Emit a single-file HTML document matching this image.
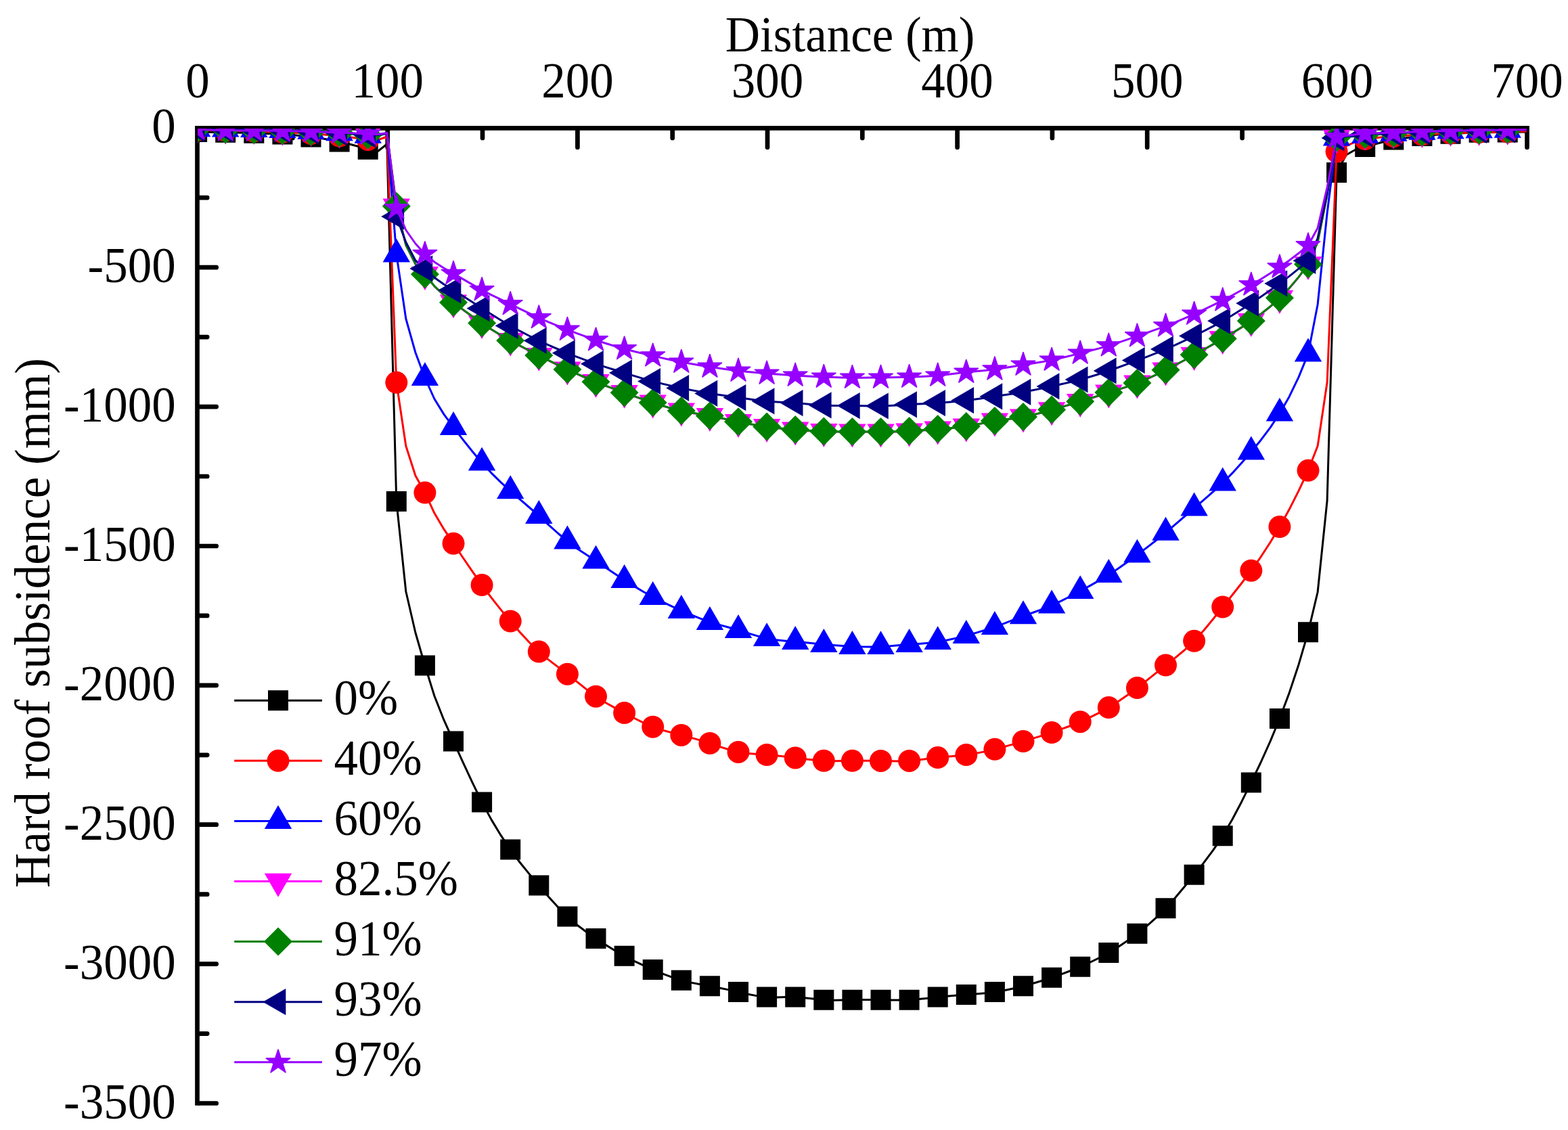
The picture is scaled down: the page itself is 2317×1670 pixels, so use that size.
<!DOCTYPE html>
<html><head><meta charset="utf-8"><title>Hard roof subsidence</title>
<style>html,body{margin:0;padding:0;background:#fff;}svg{display:block;}text{font-family:'Liberation Serif','Times New Roman',serif;font-size:71px;fill:#000;}</style></head><body>
<svg width="2317" height="1670" viewBox="0 0 2317 1670">
<rect width="2317" height="1670" fill="#fff"/>
<path d="M288.1 189.3H2259.9M291.5 186V1633.8" stroke="#000" stroke-width="6.7" fill="none"/>
<path d="M432.4 192.7v11.2M572.7 192.7v25M713 192.7v11.2M853.4 192.7v25M993.7 192.7v11.2M1134 192.7v25M1274.3 192.7v11.2M1414.6 192.7v25M1554.9 192.7v11.2M1695.2 192.7v25M1835.6 192.7v11.2M1975.9 192.7v25M2116.2 192.7v11.2M2256.5 192.7v25M294.9 292.2h11.3M294.9 395.2h24.8M294.9 498.1h11.3M294.9 601.1h24.8M294.9 704h11.3M294.9 807h24.8M294.9 909.9h11.3M294.9 1012.8h24.8M294.9 1115.8h11.3M294.9 1218.7h24.8M294.9 1321.7h11.3M294.9 1424.6h24.8M294.9 1527.6h11.3M294.9 1630.5h24.8" stroke="#000" stroke-width="6.7" stroke-linecap="round" fill="none"/>
<text transform="translate(291.9 144) scale(1 1.055)" text-anchor="middle">0</text>
<text transform="translate(572.7 144) scale(1 1.055)" text-anchor="middle">100</text>
<text transform="translate(853.4 144) scale(1 1.055)" text-anchor="middle">200</text>
<text transform="translate(1134 144) scale(1 1.055)" text-anchor="middle">300</text>
<text transform="translate(1414.6 144) scale(1 1.055)" text-anchor="middle">400</text>
<text transform="translate(1695.2 144) scale(1 1.055)" text-anchor="middle">500</text>
<text transform="translate(1975.9 144) scale(1 1.055)" text-anchor="middle">600</text>
<text transform="translate(2256.5 144) scale(1 1.055)" text-anchor="middle">700</text>
<text transform="translate(259.7 211.3) scale(1 1.055)" text-anchor="end">0</text>
<text transform="translate(259.7 417.2) scale(1 1.055)" text-anchor="end">-500</text>
<text transform="translate(259.7 623.1) scale(1 1.055)" text-anchor="end">-1000</text>
<text transform="translate(259.7 829) scale(1 1.055)" text-anchor="end">-1500</text>
<text transform="translate(259.7 1034.8) scale(1 1.055)" text-anchor="end">-2000</text>
<text transform="translate(259.7 1240.7) scale(1 1.055)" text-anchor="end">-2500</text>
<text transform="translate(259.7 1446.6) scale(1 1.055)" text-anchor="end">-3000</text>
<text transform="translate(259.7 1652.5) scale(1 1.055)" text-anchor="end">-3500</text>
<text transform="translate(1071.8 76) scale(1 1.028)">Distance (m)</text>
<text transform="translate(73.3 1311.9) rotate(-90) scale(1 1.028)">Hard roof subsidence (mm)</text>
<defs><clipPath id="c"><rect x="292" y="190" width="1967" height="1441.2"/></clipPath></defs>
<g clip-path="url(#c)">
<path d="M291.1 195L305.1 195.2L319.2 195.4L333.2 195.7L347.2 196L361.3 196.3L375.3 196.7L389.3 197.2L403.4 197.8L417.4 198.5L431.4 199.5L445.5 200.8L459.5 202.4L473.5 204.3L487.6 206.7L501.6 209.5L515.6 212.7L529.7 216.5L543.7 220.8L557.7 224L571.8 213L585.8 740.9L599.8 874L613.9 935L627.9 983.5L641.9 1028.5L656 1064.2L670 1095.4L684 1126.3L698.1 1156.7L712.1 1185.4L726.1 1211.4L740.2 1234.7L754.2 1255.6L768.2 1274.5L782.3 1291.9L796.3 1308.6L810.3 1325L824.4 1340.5L838.4 1354.6L852.4 1366.7L866.5 1377.3L880.5 1386.9L894.5 1396.1L908.6 1404.8L922.6 1412.8L936.6 1420.1L950.7 1426.7L964.7 1432.9L978.7 1438.8L992.8 1444.2L1006.8 1448.7L1020.8 1452.1L1034.9 1454.8L1048.9 1457.3L1062.9 1460L1077 1462.9L1091 1466L1105 1469.2L1119.1 1471.9L1133.1 1473.6L1147.1 1473.9L1161.2 1473.6L1175.2 1473.6L1189.2 1474.7L1203.3 1476.3L1217.3 1477.7L1231.3 1478.2L1245.4 1478.1L1259.4 1477.7L1273.4 1477.5L1287.5 1477.5L1301.5 1477.7L1315.5 1478L1329.6 1478.1L1343.6 1477.7L1357.6 1476.6L1371.7 1475.2L1385.7 1473.6L1399.7 1472.2L1413.8 1471.1L1427.8 1470L1441.8 1469L1455.9 1467.7L1469.9 1466L1483.9 1463.7L1498 1460.7L1512 1457.3L1526 1453.5L1540.1 1449.3L1554.1 1444.7L1568.1 1439.8L1582.2 1434.5L1596.2 1428.8L1610.2 1422.5L1624.3 1415.7L1638.3 1408L1652.3 1399.5L1666.4 1390.1L1680.4 1379.8L1694.5 1368.6L1708.5 1356.2L1722.5 1342.3L1736.6 1326.8L1750.6 1310L1764.6 1292.7L1778.7 1275.1L1792.7 1256.3L1806.7 1235.3L1820.8 1211.2L1834.8 1184.7L1848.8 1156.4L1862.9 1127L1876.9 1095.9L1890.9 1062L1905 1024.4L1919 982.2L1933 934.3L1947.1 875L1961.1 740L1975.1 255L1989.2 229L2003.2 221L2017.2 216.9L2031.3 213.1L2045.3 209.5L2059.3 206.6L2073.4 204.4L2087.4 202.5L2101.4 201L2115.5 199.7L2129.5 198.7L2143.5 197.8L2157.6 197L2171.6 196.2L2185.6 195.8L2199.7 195.7L2213.7 195.6L2227.7 195.5L2241.8 195.3L2255.8 195" fill="none" stroke="#000000" stroke-width="3" stroke-linejoin="round"/>
<g fill="#000000"><path d="M276.1 180h30v30h-30zM318.2 180.7h30v30h-30zM360.3 181.7h30v30h-30zM402.4 183.5h30v30h-30zM444.5 187.4h30v30h-30zM486.6 194.5h30v30h-30zM528.7 205.8h30v30h-30zM570.8 725.9h30v30h-30zM612.9 968.5h30v30h-30zM655 1080.4h30v30h-30zM697.1 1170.4h30v30h-30zM739.2 1240.6h30v30h-30zM781.3 1293.6h30v30h-30zM823.4 1339.6h30v30h-30zM865.5 1371.9h30v30h-30zM907.6 1397.8h30v30h-30zM949.7 1417.9h30v30h-30zM991.8 1433.7h30v30h-30zM1033.9 1442.3h30v30h-30zM1076 1451h30v30h-30zM1118.1 1458.6h30v30h-30zM1160.2 1458.6h30v30h-30zM1202.3 1462.7h30v30h-30zM1244.4 1462.7h30v30h-30zM1286.5 1462.7h30v30h-30zM1328.6 1462.7h30v30h-30zM1370.7 1458.6h30v30h-30zM1412.8 1455h30v30h-30zM1454.9 1451h30v30h-30zM1497 1442.3h30v30h-30zM1539.1 1429.7h30v30h-30zM1581.2 1413.8h30v30h-30zM1623.3 1393h30v30h-30zM1665.4 1364.8h30v30h-30zM1707.5 1327.3h30v30h-30zM1749.6 1277.7h30v30h-30zM1791.7 1220.3h30v30h-30zM1833.8 1141.4h30v30h-30zM1875.9 1047h30v30h-30zM1918 919.3h30v30h-30zM1960.1 240h30v30h-30zM2002.2 201.9h30v30h-30zM2044.3 191.6h30v30h-30zM2086.4 186h30v30h-30zM2128.5 182.8h30v30h-30zM2170.6 180.8h30v30h-30zM2212.7 180.5h30v30h-30z"/></g>
<path d="M291.1 192.5L305.1 192.6L319.2 192.8L333.2 193L347.2 193.3L361.3 193.6L375.3 194L389.3 194.4L403.4 194.9L417.4 195.5L431.4 196.1L445.5 196.7L459.5 197.5L473.5 198.5L487.6 199.7L501.6 201L515.6 202.6L529.7 204.4L543.7 206.4L557.7 207L571.8 202L585.8 565.3L599.8 659L613.9 703L627.9 728.1L641.9 758.3L656 782.2L670 803.2L684 824L698.1 844.7L712.1 864.6L726.1 883.4L740.2 901.1L754.2 918L768.2 934.3L782.3 949.5L796.3 963.1L810.3 974.9L824.4 985.6L838.4 996.2L852.4 1007.4L866.5 1018.7L880.5 1029.2L894.5 1038.2L908.6 1046.1L922.6 1053.6L936.6 1061L950.7 1068.1L964.7 1074.2L978.7 1079L992.8 1082.9L1006.8 1086.4L1020.8 1090.1L1034.9 1094.1L1048.9 1098.5L1062.9 1103.3L1077 1107.8L1091 1111.4L1105 1113.5L1119.1 1114.6L1133.1 1115.5L1147.1 1116.7L1161.2 1118.2L1175.2 1119.9L1189.2 1121.7L1203.3 1123.2L1217.3 1124.3L1231.3 1124.7L1245.4 1124.6L1259.4 1124.3L1273.4 1124.2L1287.5 1124.2L1301.5 1124.4L1315.5 1124.7L1329.6 1124.9L1343.6 1124.4L1357.6 1123.1L1371.7 1121.3L1385.7 1119.6L1399.7 1118.3L1413.8 1117.1L1427.8 1115.6L1441.8 1113.4L1455.9 1110.6L1469.9 1107.3L1483.9 1103.6L1498 1099.6L1512 1095.5L1526 1091.4L1540.1 1087.1L1554.1 1082.6L1568.1 1077.7L1582.2 1072.5L1596.2 1066.7L1610.2 1060.4L1624.3 1053.4L1638.3 1045.6L1652.3 1036.8L1666.4 1027.1L1680.4 1016.6L1694.5 1005.6L1708.5 994.3L1722.5 983.1L1736.6 972.1L1750.6 960.5L1764.6 947.3L1778.7 931.8L1792.7 914.7L1806.7 897L1820.8 879.5L1834.8 861.7L1848.8 843.2L1862.9 823.3L1876.9 801.8L1890.9 778.5L1905 753.1L1919 725.4L1933 695.3L1947.1 659L1961.1 565L1975.1 224L1989.2 215.9L2003.2 209.3L2017.2 205.5L2031.3 203.8L2045.3 202.6L2059.3 201.6L2073.4 200.6L2087.4 199.8L2101.4 199L2115.5 198.3L2129.5 197.6L2143.5 197L2157.6 196.4L2171.6 195.9L2185.6 195.5L2199.7 195.3L2213.7 195.2L2227.7 195L2241.8 194.6L2255.8 194" fill="none" stroke="#FF0000" stroke-width="3" stroke-linejoin="round"/>
<g fill="#FF0000"><circle cx="291.1" cy="192.5" r="16.5"/><circle cx="333.2" cy="193" r="16.5"/><circle cx="375.3" cy="194" r="16.5"/><circle cx="417.4" cy="195.5" r="16.5"/><circle cx="459.5" cy="197.5" r="16.5"/><circle cx="501.6" cy="201" r="16.5"/><circle cx="543.7" cy="206.4" r="16.5"/><circle cx="585.8" cy="565.3" r="16.5"/><circle cx="627.9" cy="728.1" r="16.5"/><circle cx="670" cy="803.2" r="16.5"/><circle cx="712.1" cy="864.6" r="16.5"/><circle cx="754.2" cy="918" r="16.5"/><circle cx="796.3" cy="963.1" r="16.5"/><circle cx="838.4" cy="996.2" r="16.5"/><circle cx="880.5" cy="1029.2" r="16.5"/><circle cx="922.6" cy="1053.6" r="16.5"/><circle cx="964.7" cy="1074.2" r="16.5"/><circle cx="1006.8" cy="1086.4" r="16.5"/><circle cx="1048.9" cy="1098.5" r="16.5"/><circle cx="1091" cy="1111.4" r="16.5"/><circle cx="1133.1" cy="1115.5" r="16.5"/><circle cx="1175.2" cy="1119.9" r="16.5"/><circle cx="1217.3" cy="1124.3" r="16.5"/><circle cx="1259.4" cy="1124.3" r="16.5"/><circle cx="1301.5" cy="1124.4" r="16.5"/><circle cx="1343.6" cy="1124.4" r="16.5"/><circle cx="1385.7" cy="1119.6" r="16.5"/><circle cx="1427.8" cy="1115.6" r="16.5"/><circle cx="1469.9" cy="1107.3" r="16.5"/><circle cx="1512" cy="1095.5" r="16.5"/><circle cx="1554.1" cy="1082.6" r="16.5"/><circle cx="1596.2" cy="1066.7" r="16.5"/><circle cx="1638.3" cy="1045.6" r="16.5"/><circle cx="1680.4" cy="1016.6" r="16.5"/><circle cx="1722.5" cy="983.1" r="16.5"/><circle cx="1764.6" cy="947.3" r="16.5"/><circle cx="1806.7" cy="897" r="16.5"/><circle cx="1848.8" cy="843.2" r="16.5"/><circle cx="1890.9" cy="778.5" r="16.5"/><circle cx="1933" cy="695.3" r="16.5"/><circle cx="1975.1" cy="224" r="16.5"/><circle cx="2017.2" cy="205.5" r="16.5"/><circle cx="2059.3" cy="201.6" r="16.5"/><circle cx="2101.4" cy="199" r="16.5"/><circle cx="2143.5" cy="197" r="16.5"/><circle cx="2185.6" cy="195.5" r="16.5"/><circle cx="2227.7" cy="195" r="16.5"/></g>
<path d="M291.1 190.5L305.1 190.6L319.2 190.8L333.2 190.9L347.2 191L361.3 191.1L375.3 191.3L389.3 191.6L403.4 191.9L417.4 192.3L431.4 192.8L445.5 193.4L459.5 194L473.5 194.7L487.6 195.6L501.6 196.5L515.6 197.6L529.7 198.8L543.7 200.2L557.7 200.5L571.8 197L585.8 375.8L599.8 471L613.9 521L627.9 558.5L641.9 589.5L656 612.4L670 631.3L684 649.6L698.1 667.3L712.1 684L726.1 699.1L740.2 712.8L754.2 725.6L768.2 737.9L782.3 750L796.3 762.4L810.3 775.3L824.4 788L838.4 799.9L852.4 810.4L866.5 819.8L880.5 829L894.5 838.4L908.6 847.9L922.6 857.2L936.6 866.1L950.7 874.5L964.7 882.3L978.7 889.4L992.8 896.1L1006.8 902.4L1020.8 908.5L1034.9 914.2L1048.9 919.2L1062.9 923.4L1077 927.2L1091 931.2L1105 935.6L1119.1 939.9L1133.1 943.5L1147.1 945.8L1161.2 947.2L1175.2 948.3L1189.2 949.6L1203.3 950.9L1217.3 952.3L1231.3 953.5L1245.4 954.5L1259.4 955.3L1273.4 955.8L1287.5 955.9L1301.5 955.5L1315.5 954.7L1329.6 953.5L1343.6 952.4L1357.6 951.4L1371.7 950.2L1385.7 948.5L1399.7 946L1413.8 942.9L1427.8 939.3L1441.8 935.4L1455.9 931.1L1469.9 926.4L1483.9 921.3L1498 915.9L1512 910.6L1526 905.5L1540.1 900.4L1554.1 894.7L1568.1 888.2L1582.2 881L1596.2 873.5L1610.2 865.9L1624.3 857.9L1638.3 849.4L1652.3 840.2L1666.4 830.3L1680.4 820L1694.5 809.4L1708.5 798.5L1722.5 787.1L1736.6 775.2L1750.6 763L1764.6 750.9L1778.7 738.9L1792.7 726.7L1806.7 713.7L1820.8 699.4L1834.8 684L1848.8 667.7L1862.9 650.7L1876.9 632.1L1890.9 611L1905 586.4L1919 557.4L1933 522.9L1947.1 450L1961.1 315L1975.1 203.9L1989.2 202.5L2003.2 201.2L2017.2 200L2031.3 199L2045.3 198L2059.3 197.2L2073.4 196.4L2087.4 195.7L2101.4 195L2115.5 194.4L2129.5 193.9L2143.5 193.5L2157.6 193.1L2171.6 192.8L2185.6 192.5L2199.7 192.3L2213.7 192.1L2227.7 192L2241.8 192L2255.8 192" fill="none" stroke="#0000FF" stroke-width="3" stroke-linejoin="round"/>
<g fill="#0000FF"><path d="M291.1 167.2L311.3 202.2L270.9 202.2zM333.2 167.6L353.4 202.6L313 202.6zM375.3 168L395.5 203L355.1 203zM417.4 169L437.6 204L397.2 204zM459.5 170.7L479.7 205.7L439.3 205.7zM501.6 173.2L521.8 208.2L481.4 208.2zM543.7 176.9L563.9 211.8L523.5 211.8zM585.8 352.5L606 387.4L565.6 387.4zM627.9 535.2L648.1 570.1L607.7 570.1zM670 608L690.2 642.9L649.8 642.9zM712.1 660.7L732.3 695.6L691.9 695.6zM754.2 702.3L774.4 737.2L734 737.2zM796.3 739.1L816.5 774L776.1 774zM838.4 776.6L858.6 811.5L818.2 811.5zM880.5 805.7L900.7 840.6L860.3 840.6zM922.6 833.9L942.8 868.9L902.4 868.9zM964.7 859L984.9 893.9L944.5 893.9zM1006.8 879.1L1027 914L986.6 914zM1048.9 895.9L1069.1 930.9L1028.7 930.9zM1091 907.9L1111.2 942.9L1070.8 942.9zM1133.1 920.2L1153.3 955.1L1112.9 955.1zM1175.2 925L1195.4 959.9L1155 959.9zM1217.3 929L1237.5 963.9L1197.1 963.9zM1259.4 932L1279.6 966.9L1239.2 966.9zM1301.5 932.2L1321.7 967.1L1281.3 967.1zM1343.6 929.1L1363.8 964L1323.4 964zM1385.7 925.2L1405.9 960.1L1365.5 960.1zM1427.8 916L1448 950.9L1407.6 950.9zM1469.9 903.1L1490.1 938L1449.7 938zM1512 887.3L1532.2 922.2L1491.8 922.2zM1554.1 871.4L1574.3 906.4L1533.9 906.4zM1596.2 850.2L1616.4 885.1L1576 885.1zM1638.3 826.1L1658.5 861L1618.1 861zM1680.4 796.7L1700.6 831.6L1660.2 831.6zM1722.5 763.8L1742.7 798.8L1702.3 798.8zM1764.6 727.6L1784.8 762.5L1744.4 762.5zM1806.7 690.4L1826.9 725.4L1786.5 725.4zM1848.8 644.4L1869 679.4L1828.6 679.4zM1890.9 587.7L1911.1 622.6L1870.7 622.6zM1933 499.6L1953.2 534.5L1912.8 534.5zM1975.1 180.6L1995.3 215.6L1954.9 215.6zM2017.2 176.7L2037.4 211.7L1997 211.7zM2059.3 173.9L2079.5 208.8L2039.1 208.8zM2101.4 171.7L2121.6 206.7L2081.2 206.7zM2143.5 170.2L2163.7 205.2L2123.3 205.2zM2185.6 169.2L2205.8 204.2L2165.4 204.2zM2227.7 168.7L2247.9 203.7L2207.5 203.7z"/></g>
<path d="M291.1 190L305.1 190.1L319.2 190.2L333.2 190.3L347.2 190.4L361.3 190.5L375.3 190.6L389.3 191L403.4 191.8L417.4 192.4L431.4 192.8L445.5 193.1L459.5 193.5L473.5 194.2L487.6 195.1L501.6 196L515.6 196.9L529.7 197.9L543.7 199L557.7 199.5L571.8 197L585.8 305.1L599.8 362.3L613.9 390.3L627.9 405.6L641.9 423.1L656 436.3L670 447.2L684 457.7L698.1 468L712.1 477.8L726.1 487L740.2 495.5L754.2 503.5L768.2 511.1L782.3 518.4L796.3 525.5L810.3 532.6L824.4 539.6L838.4 546.3L852.4 552.7L866.5 558.8L880.5 564.6L894.5 570.1L908.6 575.4L922.6 580.5L936.6 585.6L950.7 590.5L964.7 595.3L978.7 599.8L992.8 603.9L1006.8 607.3L1020.8 610L1034.9 612.4L1048.9 614.8L1062.9 617.6L1077 620.6L1091 623.6L1105 626.3L1119.1 628.7L1133.1 630.8L1147.1 632.6L1161.2 634L1175.2 635.3L1189.2 636.4L1203.3 637.2L1217.3 637.8L1231.3 638.1L1245.4 638.3L1259.4 638.3L1273.4 638.3L1287.5 638.3L1301.5 638.3L1315.5 638.2L1329.6 637.9L1343.6 637.3L1357.6 636.4L1371.7 635.4L1385.7 634.3L1399.7 633.3L1413.8 632.1L1427.8 630.3L1441.8 627.8L1455.9 624.9L1469.9 622.3L1483.9 620.3L1498 618.5L1512 616.3L1526 613.4L1540.1 609.8L1554.1 605.9L1568.1 601.9L1582.2 597.8L1596.2 593.6L1610.2 589.2L1624.3 584.7L1638.3 580.3L1652.3 575.9L1666.4 571.4L1680.4 566.3L1694.5 560.5L1708.5 554L1722.5 547.1L1736.6 539.8L1750.6 532.3L1764.6 524.6L1778.7 516.8L1792.7 508.9L1806.7 500.8L1820.8 492.5L1834.8 483.9L1848.8 474.6L1862.9 464.5L1876.9 453.3L1890.9 440.6L1905 426.2L1919 409.7L1933 390.8L1947.1 358L1961.1 288L1975.1 203.4L1989.2 201.6L2003.2 200.1L2017.2 199L2031.3 198.2L2045.3 197.6L2059.3 197L2073.4 196.5L2087.4 196L2101.4 195.5L2115.5 194.8L2129.5 194.1L2143.5 193.5L2157.6 193.1L2171.6 192.8L2185.6 192.5L2199.7 192.2L2213.7 191.8L2227.7 191.5L2241.8 191.2L2255.8 191" fill="none" stroke="#FF00FF" stroke-width="3" stroke-linejoin="round"/>
<g fill="#FF00FF"><path d="M291.1 213.3L311.3 178.3L270.9 178.3zM333.2 213.6L353.4 178.7L313 178.7zM375.3 213.9L395.5 178.9L355.1 178.9zM417.4 215.7L437.6 180.8L397.2 180.8zM459.5 216.8L479.7 181.8L439.3 181.8zM501.6 219.3L521.8 184.3L481.4 184.3zM543.7 222.3L563.9 187.3L523.5 187.3zM585.8 328.4L606 293.5L565.6 293.5zM627.9 428.9L648.1 394L607.7 394zM670 470.5L690.2 435.6L649.8 435.6zM712.1 501.1L732.3 466.2L691.9 466.2zM754.2 526.8L774.4 491.9L734 491.9zM796.3 548.8L816.5 513.9L776.1 513.9zM838.4 569.6L858.6 534.6L818.2 534.6zM880.5 587.9L900.7 552.9L860.3 552.9zM922.6 603.8L942.8 568.9L902.4 568.9zM964.7 618.6L984.9 583.6L944.5 583.6zM1006.8 630.6L1027 595.6L986.6 595.6zM1048.9 638.1L1069.1 603.1L1028.7 603.1zM1091 646.9L1111.2 611.9L1070.8 611.9zM1133.1 654.1L1153.3 619.1L1112.9 619.1zM1175.2 658.6L1195.4 623.6L1155 623.6zM1217.3 661.1L1237.5 626.1L1197.1 626.1zM1259.4 661.6L1279.6 626.6L1239.2 626.6zM1301.5 661.6L1321.7 626.6L1281.3 626.6zM1343.6 660.6L1363.8 625.6L1323.4 625.6zM1385.7 657.6L1405.9 622.6L1365.5 622.6zM1427.8 653.6L1448 618.6L1407.6 618.6zM1469.9 645.6L1490.1 610.6L1449.7 610.6zM1512 639.6L1532.2 604.6L1491.8 604.6zM1554.1 629.2L1574.3 594.2L1533.9 594.2zM1596.2 616.9L1616.4 581.9L1576 581.9zM1638.3 603.6L1658.5 568.6L1618.1 568.6zM1680.4 589.6L1700.6 554.6L1660.2 554.6zM1722.5 570.4L1742.7 535.4L1702.3 535.4zM1764.6 547.9L1784.8 512.9L1744.4 512.9zM1806.7 524.1L1826.9 489.2L1786.5 489.2zM1848.8 497.9L1869 463L1828.6 463zM1890.9 463.9L1911.1 429L1870.7 429zM1933 414.1L1953.2 379.2L1912.8 379.2zM1975.1 226.7L1995.3 191.8L1954.9 191.8zM2017.2 222.3L2037.4 187.3L1997 187.3zM2059.3 220.3L2079.5 185.3L2039.1 185.3zM2101.4 218.8L2121.6 183.8L2081.2 183.8zM2143.5 216.8L2163.7 181.8L2123.3 181.8zM2185.6 215.8L2205.8 180.8L2165.4 180.8zM2227.7 214.8L2247.9 179.8L2207.5 179.8z"/></g>
<path d="M291.1 190.5L305.1 190.9L319.2 191.2L333.2 191.5L347.2 191.7L361.3 191.8L375.3 192L389.3 192.3L403.4 192.6L417.4 193L431.4 193.4L445.5 193.9L459.5 194.5L473.5 195.1L487.6 195.7L501.6 196.5L515.6 197.4L529.7 198.5L543.7 199.8L557.7 200L571.8 197L585.8 304.8L599.8 362L613.9 390L627.9 405.3L641.9 422.8L656 436L670 446.9L684 457.4L698.1 467.7L712.1 477.5L726.1 486.7L740.2 495.2L754.2 503.2L768.2 510.8L782.3 518.1L796.3 525.2L810.3 532.3L824.4 539.3L838.4 546L852.4 552.4L866.5 558.5L880.5 564.3L894.5 569.8L908.6 575.1L922.6 580.2L936.6 585.3L950.7 590.2L964.7 595L978.7 599.5L992.8 603.6L1006.8 607L1020.8 609.7L1034.9 612.1L1048.9 614.5L1062.9 617.3L1077 620.3L1091 623.3L1105 626L1119.1 628.4L1133.1 630.5L1147.1 632.3L1161.2 633.7L1175.2 635L1189.2 636.1L1203.3 636.9L1217.3 637.5L1231.3 637.8L1245.4 638L1259.4 638L1273.4 638L1287.5 638L1301.5 638L1315.5 637.9L1329.6 637.6L1343.6 637L1357.6 636.1L1371.7 635.1L1385.7 634L1399.7 633L1413.8 631.8L1427.8 630L1441.8 627.5L1455.9 624.6L1469.9 622L1483.9 620L1498 618.2L1512 616L1526 613.1L1540.1 609.5L1554.1 605.6L1568.1 601.6L1582.2 597.5L1596.2 593.3L1610.2 588.9L1624.3 584.4L1638.3 580L1652.3 575.6L1666.4 571.1L1680.4 566L1694.5 560.2L1708.5 553.7L1722.5 546.8L1736.6 539.5L1750.6 532L1764.6 524.3L1778.7 516.5L1792.7 508.6L1806.7 500.5L1820.8 492.2L1834.8 483.6L1848.8 474.3L1862.9 464.2L1876.9 453L1890.9 440.3L1905 425.9L1919 409.4L1933 390.5L1947.1 358L1961.1 288L1975.1 203.4L1989.2 201.6L2003.2 200.1L2017.2 199L2031.3 198.2L2045.3 197.6L2059.3 197L2073.4 196.5L2087.4 196L2101.4 195.5L2115.5 194.8L2129.5 194.1L2143.5 193.5L2157.6 193.1L2171.6 192.8L2185.6 192.5L2199.7 192.2L2213.7 191.8L2227.7 191.5L2241.8 191.2L2255.8 191" fill="none" stroke="#008000" stroke-width="3" stroke-linejoin="round"/>
<g fill="#008000"><path d="M291.1 169.5L312.1 190.5L291.1 211.5L270.1 190.5zM333.2 170.5L354.2 191.5L333.2 212.5L312.2 191.5zM375.3 171L396.3 192L375.3 213L354.3 192zM417.4 172L438.4 193L417.4 214L396.4 193zM459.5 173.5L480.5 194.5L459.5 215.5L438.5 194.5zM501.6 175.5L522.6 196.5L501.6 217.5L480.6 196.5zM543.7 178.8L564.7 199.8L543.7 220.8L522.7 199.8zM585.8 283.8L606.8 304.8L585.8 325.8L564.8 304.8zM627.9 384.3L648.9 405.3L627.9 426.3L606.9 405.3zM670 425.9L691 446.9L670 467.9L649 446.9zM712.1 456.5L733.1 477.5L712.1 498.5L691.1 477.5zM754.2 482.2L775.2 503.2L754.2 524.2L733.2 503.2zM796.3 504.2L817.3 525.2L796.3 546.2L775.3 525.2zM838.4 525L859.4 546L838.4 567L817.4 546zM880.5 543.3L901.5 564.3L880.5 585.3L859.5 564.3zM922.6 559.2L943.6 580.2L922.6 601.2L901.6 580.2zM964.7 574L985.7 595L964.7 616L943.7 595zM1006.8 586L1027.8 607L1006.8 628L985.8 607zM1048.9 593.5L1069.9 614.5L1048.9 635.5L1027.9 614.5zM1091 602.3L1112 623.3L1091 644.3L1070 623.3zM1133.1 609.5L1154.1 630.5L1133.1 651.5L1112.1 630.5zM1175.2 614L1196.2 635L1175.2 656L1154.2 635zM1217.3 616.5L1238.3 637.5L1217.3 658.5L1196.3 637.5zM1259.4 617L1280.4 638L1259.4 659L1238.4 638zM1301.5 617L1322.5 638L1301.5 659L1280.5 638zM1343.6 616L1364.6 637L1343.6 658L1322.6 637zM1385.7 613L1406.7 634L1385.7 655L1364.7 634zM1427.8 609L1448.8 630L1427.8 651L1406.8 630zM1469.9 601L1490.9 622L1469.9 643L1448.9 622zM1512 595L1533 616L1512 637L1491 616zM1554.1 584.6L1575.1 605.6L1554.1 626.6L1533.1 605.6zM1596.2 572.3L1617.2 593.3L1596.2 614.3L1575.2 593.3zM1638.3 559L1659.3 580L1638.3 601L1617.3 580zM1680.4 545L1701.4 566L1680.4 587L1659.4 566zM1722.5 525.8L1743.5 546.8L1722.5 567.8L1701.5 546.8zM1764.6 503.3L1785.6 524.3L1764.6 545.3L1743.6 524.3zM1806.7 479.5L1827.7 500.5L1806.7 521.5L1785.7 500.5zM1848.8 453.3L1869.8 474.3L1848.8 495.3L1827.8 474.3zM1890.9 419.3L1911.9 440.3L1890.9 461.3L1869.9 440.3zM1933 369.5L1954 390.5L1933 411.5L1912 390.5zM1975.1 182.4L1996.1 203.4L1975.1 224.4L1954.1 203.4zM2017.2 178L2038.2 199L2017.2 220L1996.2 199zM2059.3 176L2080.3 197L2059.3 218L2038.3 197zM2101.4 174.5L2122.4 195.5L2101.4 216.5L2080.4 195.5zM2143.5 172.5L2164.5 193.5L2143.5 214.5L2122.5 193.5zM2185.6 171.5L2206.6 192.5L2185.6 213.5L2164.6 192.5zM2227.7 170.5L2248.7 191.5L2227.7 212.5L2206.7 191.5z"/></g>
<path d="M291.1 190.5L305.1 190.7L319.2 190.9L333.2 191.1L347.2 191.3L361.3 191.4L375.3 191.6L389.3 191.8L403.4 192.1L417.4 192.5L431.4 192.9L445.5 193.4L459.5 194L473.5 194.6L487.6 195.3L501.6 196L515.6 196.9L529.7 197.9L543.7 199L557.7 199.5L571.8 197L585.8 320L599.8 358L613.9 385L627.9 397L641.9 410.2L656 420.2L670 428.8L684 437.6L698.1 446.6L712.1 455.7L726.1 464.6L740.2 473.2L754.2 481.4L768.2 489.2L782.3 496.5L796.3 503.4L810.3 509.9L824.4 516L838.4 521.8L852.4 527.4L866.5 532.7L880.5 537.7L894.5 542.4L908.6 546.8L922.6 551.1L936.6 555.4L950.7 559.6L964.7 563.5L978.7 567.1L992.8 570.4L1006.8 573.5L1020.8 576.4L1034.9 579L1048.9 581.4L1062.9 583.6L1077 585.6L1091 587.6L1105 589.6L1119.1 591.4L1133.1 592.9L1147.1 593.9L1161.2 594.7L1175.2 595.6L1189.2 596.7L1203.3 598L1217.3 598.9L1231.3 599.4L1245.4 599.5L1259.4 599.6L1273.4 599.8L1287.5 600.1L1301.5 600L1315.5 599.5L1329.6 598.7L1343.6 597.8L1357.6 597.1L1371.7 596.4L1385.7 595.6L1399.7 594.6L1413.8 593.3L1427.8 591.7L1441.8 589.9L1455.9 587.9L1469.9 585.9L1483.9 583.8L1498 581.7L1512 579.3L1526 576.7L1540.1 573.9L1554.1 570.9L1568.1 567.8L1582.2 564.6L1596.2 561L1610.2 557L1624.3 552.7L1638.3 548L1652.3 543L1666.4 537.9L1680.4 532.6L1694.5 527.3L1708.5 521.9L1722.5 516.1L1736.6 509.9L1750.6 503.3L1764.6 496.5L1778.7 489.4L1792.7 482.1L1806.7 474.3L1820.8 466L1834.8 457.3L1848.8 448.2L1862.9 438.8L1876.9 429.1L1890.9 419L1905 408.4L1919 397.2L1933 385.3L1947.1 352L1961.1 285L1975.1 204L1989.2 201.7L2003.2 199.8L2017.2 198.5L2031.3 197.7L2045.3 197.1L2059.3 196.5L2073.4 196L2087.4 195.5L2101.4 195L2115.5 194.5L2129.5 194L2143.5 193.5L2157.6 193.1L2171.6 192.8L2185.6 192.5L2199.7 192.3L2213.7 192.2L2227.7 192L2241.8 191.8L2255.8 191.5" fill="none" stroke="#000080" stroke-width="3" stroke-linejoin="round"/>
<g fill="#000080"><path d="M268.5 190.5L302.4 170.9L302.4 210.1zM310.6 191.1L344.5 171.5L344.5 210.7zM352.7 191.6L386.6 172L386.6 211.2zM394.8 192.5L428.7 172.9L428.7 212.1zM436.9 194L470.8 174.4L470.8 213.6zM479 196L512.9 176.4L512.9 215.6zM521.1 199L555 179.4L555 218.6zM563.2 320L597.1 300.4L597.1 339.6zM605.3 397L639.2 377.4L639.2 416.6zM647.4 428.8L681.3 409.2L681.3 448.4zM689.5 455.7L723.4 436.1L723.4 475.3zM731.6 481.4L765.5 461.8L765.5 501zM773.7 503.4L807.6 483.8L807.6 523zM815.8 521.8L849.7 502.2L849.7 541.4zM857.9 537.7L891.8 518.1L891.8 557.3zM900 551.1L933.9 531.5L933.9 570.7zM942.1 563.5L976 543.9L976 583.1zM984.2 573.5L1018.1 553.9L1018.1 593.1zM1026.3 581.4L1060.2 561.8L1060.2 601zM1068.4 587.6L1102.3 568L1102.3 607.2zM1110.5 592.9L1144.4 573.3L1144.4 612.5zM1152.6 595.6L1186.5 576L1186.5 615.2zM1194.7 598.9L1228.6 579.3L1228.6 618.5zM1236.8 599.6L1270.7 580L1270.7 619.2zM1278.9 600L1312.8 580.4L1312.8 619.6zM1321 597.8L1354.9 578.2L1354.9 617.4zM1363.1 595.6L1397 576L1397 615.2zM1405.2 591.7L1439.1 572.1L1439.1 611.3zM1447.3 585.9L1481.2 566.3L1481.2 605.5zM1489.4 579.3L1523.3 559.7L1523.3 598.9zM1531.5 570.9L1565.4 551.3L1565.4 590.5zM1573.6 561L1607.5 541.4L1607.5 580.6zM1615.7 548L1649.6 528.4L1649.6 567.6zM1657.8 532.6L1691.7 513L1691.7 552.2zM1699.9 516.1L1733.8 496.5L1733.8 535.7zM1742 496.5L1775.9 476.9L1775.9 516.1zM1784.1 474.3L1818 454.7L1818 493.9zM1826.2 448.2L1860.1 428.6L1860.1 467.8zM1868.3 419L1902.2 399.4L1902.2 438.6zM1910.4 385.3L1944.3 365.7L1944.3 404.9zM1952.5 204L1986.4 184.4L1986.4 223.6zM1994.6 198.5L2028.5 178.9L2028.5 218.1zM2036.7 196.5L2070.6 176.9L2070.6 216.1zM2078.8 195L2112.7 175.4L2112.7 214.6zM2120.9 193.5L2154.8 173.9L2154.8 213.1zM2163 192.5L2196.9 172.9L2196.9 212.1zM2205.1 192L2239 172.4L2239 211.6z"/></g>
<path d="M291.1 191L305.1 191.7L319.2 192.3L333.2 192.6L347.2 192.8L361.3 192.9L375.3 193L389.3 193.1L403.4 193.3L417.4 193.5L431.4 193.8L445.5 194.1L459.5 194.5L473.5 194.9L487.6 195.4L501.6 196L515.6 196.6L529.7 197.3L543.7 198L557.7 198.5L571.8 196.5L585.8 307.6L599.8 340L613.9 360L627.9 375.4L641.9 387.2L656 396.3L670 404.3L684 412.4L698.1 420.6L712.1 428.5L726.1 435.8L740.2 442.7L754.2 449.5L768.2 456.3L782.3 463.1L796.3 469.6L810.3 475.8L824.4 481.6L838.4 487.2L852.4 492.6L866.5 497.7L880.5 502.6L894.5 507.2L908.6 511.6L922.6 515.6L936.6 519.2L950.7 522.6L964.7 525.9L978.7 529.1L992.8 532.2L1006.8 535.1L1020.8 537.6L1034.9 539.9L1048.9 542.1L1062.9 544.2L1077 546.2L1091 548L1105 549.5L1119.1 550.8L1133.1 552L1147.1 553.1L1161.2 554.1L1175.2 555L1189.2 555.8L1203.3 556.5L1217.3 557.1L1231.3 557.6L1245.4 557.9L1259.4 558.1L1273.4 558.2L1287.5 558.1L1301.5 558L1315.5 557.8L1329.6 557.5L1343.6 557.1L1357.6 556.7L1371.7 556L1385.7 555L1399.7 553.5L1413.8 551.8L1427.8 550.1L1441.8 548.7L1455.9 547.4L1469.9 545.8L1483.9 543.8L1498 541.4L1512 539.1L1526 536.9L1540.1 534.7L1554.1 532.1L1568.1 529L1582.2 525.6L1596.2 522L1610.2 518.5L1624.3 514.9L1638.3 510.9L1652.3 506.4L1666.4 501.6L1680.4 496.7L1694.5 491.9L1708.5 486.9L1722.5 481.8L1736.6 476.3L1750.6 470.3L1764.6 464.1L1778.7 457.6L1792.7 450.8L1806.7 443.8L1820.8 436.5L1834.8 428.8L1848.8 420.9L1862.9 412.7L1876.9 404L1890.9 394.8L1905 384.9L1919 374.3L1933 362.7L1947.1 337L1961.1 277L1975.1 202.7L1989.2 200.5L2003.2 198.7L2017.2 197.5L2031.3 196.9L2045.3 196.4L2059.3 196L2073.4 195.5L2087.4 195L2101.4 194.5L2115.5 194.1L2129.5 193.8L2143.5 193.5L2157.6 193.1L2171.6 192.8L2185.6 192.5L2199.7 192.3L2213.7 192.2L2227.7 192L2241.8 191.8L2255.8 191.5" fill="none" stroke="#9600FF" stroke-width="3" stroke-linejoin="round"/>
<g fill="#9600FF"><path d="M291.1 172L295.4 185.1L309.2 185.1L298 193.2L302.3 206.4L291.1 198.3L279.9 206.4L284.2 193.2L273 185.1L286.8 185.1zM333.2 173.6L337.5 186.7L351.3 186.7L340.1 194.8L344.4 208L333.2 199.9L322 208L326.3 194.8L315.1 186.7L328.9 186.7zM375.3 174L379.6 187.1L393.4 187.1L382.2 195.2L386.5 208.4L375.3 200.3L364.1 208.4L368.4 195.2L357.2 187.1L371 187.1zM417.4 174.5L421.7 187.6L435.5 187.6L424.3 195.7L428.6 208.9L417.4 200.8L406.2 208.9L410.5 195.7L399.3 187.6L413.1 187.6zM459.5 175.5L463.8 188.6L477.6 188.6L466.4 196.7L470.7 209.9L459.5 201.8L448.3 209.9L452.6 196.7L441.4 188.6L455.2 188.6zM501.6 177L505.9 190.1L519.7 190.1L508.5 198.2L512.8 211.4L501.6 203.3L490.4 211.4L494.7 198.2L483.5 190.1L497.3 190.1zM543.7 179L548 192.1L561.8 192.1L550.6 200.2L554.9 213.4L543.7 205.3L532.5 213.4L536.8 200.2L525.6 192.1L539.4 192.1zM585.8 288.6L590.1 301.7L603.9 301.7L592.7 309.8L597 323L585.8 314.9L574.6 323L578.9 309.8L567.7 301.7L581.5 301.7zM627.9 356.4L632.2 369.5L646 369.5L634.8 377.6L639.1 390.8L627.9 382.7L616.7 390.8L621 377.6L609.8 369.5L623.6 369.5zM670 385.3L674.3 398.4L688.1 398.4L676.9 406.5L681.2 419.7L670 411.6L658.8 419.7L663.1 406.5L651.9 398.4L665.7 398.4zM712.1 409.5L716.4 422.6L730.2 422.6L719 430.7L723.3 443.9L712.1 435.8L700.9 443.9L705.2 430.7L694 422.6L707.8 422.6zM754.2 430.5L758.5 443.6L772.3 443.6L761.1 451.7L765.4 464.9L754.2 456.8L743 464.9L747.3 451.7L736.1 443.6L749.9 443.6zM796.3 450.6L800.6 463.7L814.4 463.7L803.2 471.8L807.5 485L796.3 476.9L785.1 485L789.4 471.8L778.2 463.7L792 463.7zM838.4 468.2L842.7 481.3L856.5 481.3L845.3 489.4L849.6 502.6L838.4 494.5L827.2 502.6L831.5 489.4L820.3 481.3L834.1 481.3zM880.5 483.6L884.8 496.7L898.6 496.7L887.4 504.8L891.7 518L880.5 509.9L869.3 518L873.6 504.8L862.4 496.7L876.2 496.7zM922.6 496.6L926.9 509.7L940.7 509.7L929.5 517.8L933.8 531L922.6 522.9L911.4 531L915.7 517.8L904.5 509.7L918.3 509.7zM964.7 506.9L969 520L982.8 520L971.6 528.1L975.9 541.3L964.7 533.2L953.5 541.3L957.8 528.1L946.6 520L960.4 520zM1006.8 516.1L1011.1 529.2L1024.9 529.2L1013.7 537.3L1018 550.5L1006.8 542.4L995.6 550.5L999.9 537.3L988.7 529.2L1002.5 529.2zM1048.9 523.1L1053.2 536.2L1067 536.2L1055.8 544.3L1060.1 557.5L1048.9 549.4L1037.7 557.5L1042 544.3L1030.8 536.2L1044.6 536.2zM1091 529L1095.3 542.1L1109.1 542.1L1097.9 550.2L1102.2 563.4L1091 555.3L1079.8 563.4L1084.1 550.2L1072.9 542.1L1086.7 542.1zM1133.1 533L1137.4 546.1L1151.2 546.1L1140 554.2L1144.3 567.4L1133.1 559.3L1121.9 567.4L1126.2 554.2L1115 546.1L1128.8 546.1zM1175.2 536L1179.5 549.1L1193.3 549.1L1182.1 557.2L1186.4 570.4L1175.2 562.3L1164 570.4L1168.3 557.2L1157.1 549.1L1170.9 549.1zM1217.3 538.1L1221.6 551.2L1235.4 551.2L1224.2 559.3L1228.5 572.5L1217.3 564.4L1206.1 572.5L1210.4 559.3L1199.2 551.2L1213 551.2zM1259.4 539.1L1263.7 552.2L1277.5 552.2L1266.3 560.3L1270.6 573.5L1259.4 565.4L1248.2 573.5L1252.5 560.3L1241.3 552.2L1255.1 552.2zM1301.5 539L1305.8 552.1L1319.6 552.1L1308.4 560.2L1312.7 573.4L1301.5 565.3L1290.3 573.4L1294.6 560.2L1283.4 552.1L1297.2 552.1zM1343.6 538.1L1347.9 551.2L1361.7 551.2L1350.5 559.3L1354.8 572.5L1343.6 564.4L1332.4 572.5L1336.7 559.3L1325.5 551.2L1339.3 551.2zM1385.7 536L1390 549.1L1403.8 549.1L1392.6 557.2L1396.9 570.4L1385.7 562.3L1374.5 570.4L1378.8 557.2L1367.6 549.1L1381.4 549.1zM1427.8 531.1L1432.1 544.2L1445.9 544.2L1434.7 552.3L1439 565.5L1427.8 557.4L1416.6 565.5L1420.9 552.3L1409.7 544.2L1423.5 544.2zM1469.9 526.8L1474.2 539.9L1488 539.9L1476.8 548L1481.1 561.2L1469.9 553.1L1458.7 561.2L1463 548L1451.8 539.9L1465.6 539.9zM1512 520.1L1516.3 533.2L1530.1 533.2L1518.9 541.3L1523.2 554.5L1512 546.4L1500.8 554.5L1505.1 541.3L1493.9 533.2L1507.7 533.2zM1554.1 513.1L1558.4 526.2L1572.2 526.2L1561 534.3L1565.3 547.5L1554.1 539.4L1542.9 547.5L1547.2 534.3L1536 526.2L1549.8 526.2zM1596.2 503L1600.5 516.1L1614.3 516.1L1603.1 524.2L1607.4 537.4L1596.2 529.3L1585 537.4L1589.3 524.2L1578.1 516.1L1591.9 516.1zM1638.3 491.9L1642.6 505L1656.4 505L1645.2 513.1L1649.5 526.3L1638.3 518.2L1627.1 526.3L1631.4 513.1L1620.2 505L1634 505zM1680.4 477.7L1684.7 490.8L1698.5 490.8L1687.3 498.9L1691.6 512.1L1680.4 504L1669.2 512.1L1673.5 498.9L1662.3 490.8L1676.2 490.8zM1722.5 462.8L1726.8 475.9L1740.6 475.9L1729.4 484L1733.7 497.2L1722.5 489.1L1711.3 497.2L1715.6 484L1704.4 475.9L1718.3 475.9zM1764.6 445.1L1768.9 458.2L1782.7 458.2L1771.5 466.3L1775.8 479.5L1764.6 471.4L1753.4 479.5L1757.7 466.3L1746.5 458.2L1760.4 458.2zM1806.7 424.8L1811 437.9L1824.8 437.9L1813.6 446L1817.9 459.2L1806.7 451.1L1795.6 459.2L1799.8 446L1788.6 437.9L1802.5 437.9zM1848.8 401.9L1853.1 415L1866.9 415L1855.7 423.1L1860 436.3L1848.8 428.2L1837.7 436.3L1841.9 423.1L1830.7 415L1844.6 415zM1890.9 375.8L1895.2 388.9L1909 388.9L1897.8 397L1902.1 410.2L1890.9 402.1L1879.8 410.2L1884 397L1872.8 388.9L1886.7 388.9zM1933 343.7L1937.3 356.8L1951.1 356.8L1939.9 364.9L1944.2 378.1L1933 370L1921.9 378.1L1926.1 364.9L1914.9 356.8L1928.8 356.8zM1975.1 183.7L1979.4 196.8L1993.2 196.8L1982 204.9L1986.3 218.1L1975.1 210L1964 218.1L1968.2 204.9L1957 196.8L1970.9 196.8zM2017.2 178.5L2021.5 191.6L2035.3 191.6L2024.1 199.7L2028.4 212.9L2017.2 204.8L2006.1 212.9L2010.3 199.7L1999.2 191.6L2013 191.6zM2059.3 177L2063.6 190.1L2077.4 190.1L2066.2 198.2L2070.5 211.4L2059.3 203.3L2048.2 211.4L2052.4 198.2L2041.3 190.1L2055.1 190.1zM2101.4 175.5L2105.7 188.6L2119.5 188.6L2108.3 196.7L2112.6 209.9L2101.4 201.8L2090.3 209.9L2094.5 196.7L2083.4 188.6L2097.2 188.6zM2143.5 174.5L2147.8 187.6L2161.6 187.6L2150.4 195.7L2154.7 208.9L2143.5 200.8L2132.4 208.9L2136.6 195.7L2125.5 187.6L2139.3 187.6zM2185.6 173.5L2189.9 186.6L2203.7 186.6L2192.5 194.7L2196.8 207.9L2185.6 199.8L2174.5 207.9L2178.7 194.7L2167.6 186.6L2181.4 186.6zM2227.7 173L2232 186.1L2245.8 186.1L2234.6 194.2L2238.9 207.4L2227.7 199.3L2216.6 207.4L2220.8 194.2L2209.7 186.1L2223.5 186.1z" stroke="#9600FF" stroke-width="1.4" stroke-linejoin="bevel"/></g>
</g>
<path d="M346.2 1035.2H475.9" stroke="#000000" stroke-width="3" fill="none"/>
<g fill="#000000"><path d="M396 1020.2h30v30h-30z"/></g>
<text transform="translate(493.5 1055.8) scale(1 1.055)">0%</text>
<path d="M346.2 1124.3H475.9" stroke="#FF0000" stroke-width="3" fill="none"/>
<g fill="#FF0000"><circle cx="411" cy="1124.3" r="16.5"/></g>
<text transform="translate(493.5 1144.9) scale(1 1.055)">40%</text>
<path d="M346.2 1213.4H475.9" stroke="#0000FF" stroke-width="3" fill="none"/>
<g fill="#0000FF"><path d="M411 1190.1L431.2 1225.1L390.8 1225.1z"/></g>
<text transform="translate(493.5 1234) scale(1 1.055)">60%</text>
<path d="M346.2 1302.5H475.9" stroke="#FF00FF" stroke-width="3" fill="none"/>
<g fill="#FF00FF"><path d="M411 1325.8L431.2 1290.8L390.8 1290.8z"/></g>
<text transform="translate(493.5 1323.1) scale(1 1.055)">82.5%</text>
<path d="M346.2 1391.6H475.9" stroke="#008000" stroke-width="3" fill="none"/>
<g fill="#008000"><path d="M411 1370.6L432 1391.6L411 1412.6L390 1391.6z"/></g>
<text transform="translate(493.5 1412.2) scale(1 1.055)">91%</text>
<path d="M346.2 1480.7H475.9" stroke="#000080" stroke-width="3" fill="none"/>
<g fill="#000080"><path d="M388.4 1480.7L422.3 1461.1L422.3 1500.3z"/></g>
<text transform="translate(493.5 1501.3) scale(1 1.055)">93%</text>
<path d="M346.2 1569.8H475.9" stroke="#9600FF" stroke-width="3" fill="none"/>
<g fill="#9600FF"><path d="M411 1550.8L415.3 1563.9L429.1 1563.9L417.9 1572L422.2 1585.2L411 1577.1L399.8 1585.2L404.1 1572L392.9 1563.9L406.7 1563.9z" stroke="#9600FF" stroke-width="1.4" stroke-linejoin="bevel"/></g>
<text transform="translate(493.5 1590.4) scale(1 1.055)">97%</text>
</svg></body></html>
